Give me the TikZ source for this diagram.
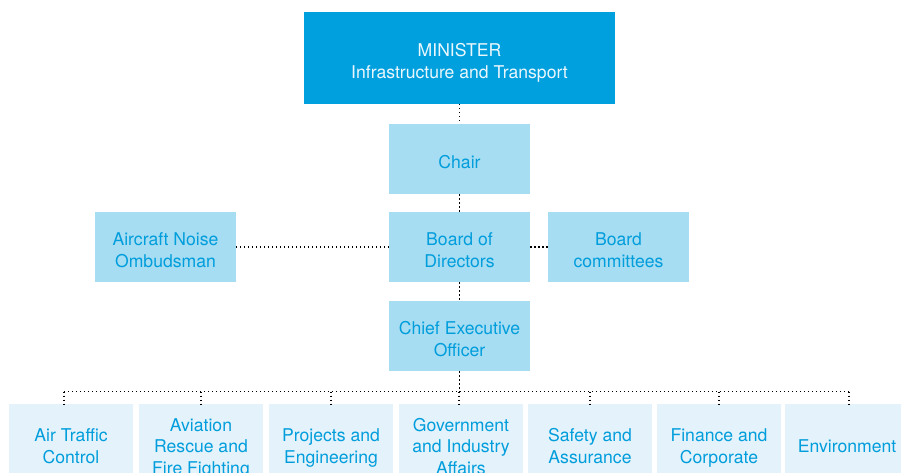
\documentclass[tikz,border=0pt]{standalone}
\usepackage{fontspec}
\setmainfont{TeX Gyre Heros}
\usepackage{tikz}
\usetikzlibrary{calc}

\definecolor{ministerblue}{RGB}{0,160,223}
\definecolor{boardblue}{RGB}{166,221,242}
\definecolor{unitblue}{RGB}{228,243,251}
\definecolor{labelblue}{RGB}{0,157,220}

% extra room above the first line, sets the text a little low in its box
\newcommand{\headroom}{\rule{0pt}{19pt}}

\tikzset{
  box/.style={align=center, inner sep=0pt, text depth=0pt,
    font=\fontsize{17.6}{21.5}\selectfont},
  minister/.style={box, fill=ministerblue, text=white!92!ministerblue,
    minimum width=311pt, minimum height=92pt},
  board/.style={box, fill=boardblue, text=labelblue,
    minimum width=141pt, minimum height=70pt},
  unit/.style={box, fill=unitblue, text=labelblue,
    minimum width=124pt, minimum height=78pt},
  link/.style={line width=1.3pt, dash pattern=on 1.3pt off 2.7pt}
}

\begin{document}
\begin{tikzpicture}[x=1pt, y=-1pt]
    % Page frame, the bottom row runs off its lower edge
    \useasboundingbox (0,0) rectangle (901,473);
    \clip (0,0) rectangle (901,473);
    % Top of the chart
    \node[minister] (minister) at (459.5,58) {\headroom MINISTER\\Infrastructure and Transport};
    \node[board] (chair) at (459.5,159) {\headroom Chair};
    \node[board] (directors) at (459.5,247) {\headroom Board of\\Directors};
    \node[board] (ombudsman) at (165.5,247) {\headroom Aircraft Noise\\Ombudsman};
    \node[board] (committees) at (618.5,247) {\headroom Board\\committees};
    \node[board] (ceo) at (459.5,336) {\headroom Chief Executive\\Officer};
    % Divisions reporting to the CEO
    \node[unit] (atc) at (71,443) {\headroom Air Traffic\\Control};
    \node[unit] (arff) at (201,443) {\headroom Aviation\\Rescue and\\Fire Fighting};
    \node[unit] (projects) at (331,443) {\headroom Projects and\\Engineering};
    \node[unit] (government) at (461,443) {\headroom Government\\and Industry\\Affairs};
    \node[unit] (safety) at (590,443) {\headroom Safety and\\Assurance};
    \node[unit] (finance) at (719,443) {\headroom Finance and\\Corporate};
    \node[unit] (environment) at (847,443) {\headroom Environment};
    % Reporting lines
    \draw[link] (minister) -- (chair);
    \draw[link] (chair) -- (directors);
    \draw[link] (directors) -- (ombudsman);
    \draw[link] (directors) -- (committees);
    \draw[link] (directors) -- (ceo);
    \coordinate (bus) at (459.5,391.5);
    \draw[link] (ceo) -- (bus);
    \draw[link] ($(bus -| atc)+(-7,0)$) -- ($(bus -| environment)+(2,0)$);
    \foreach \unit/\dx in {atc/-7, arff/0, projects/0, government/-2, safety/0, finance/0, environment/2}
      \draw[link] ($(bus -| \unit)+(\dx,0)$) -- ($(\unit.north)+(\dx,0)$);
\end{tikzpicture}
\end{document}
